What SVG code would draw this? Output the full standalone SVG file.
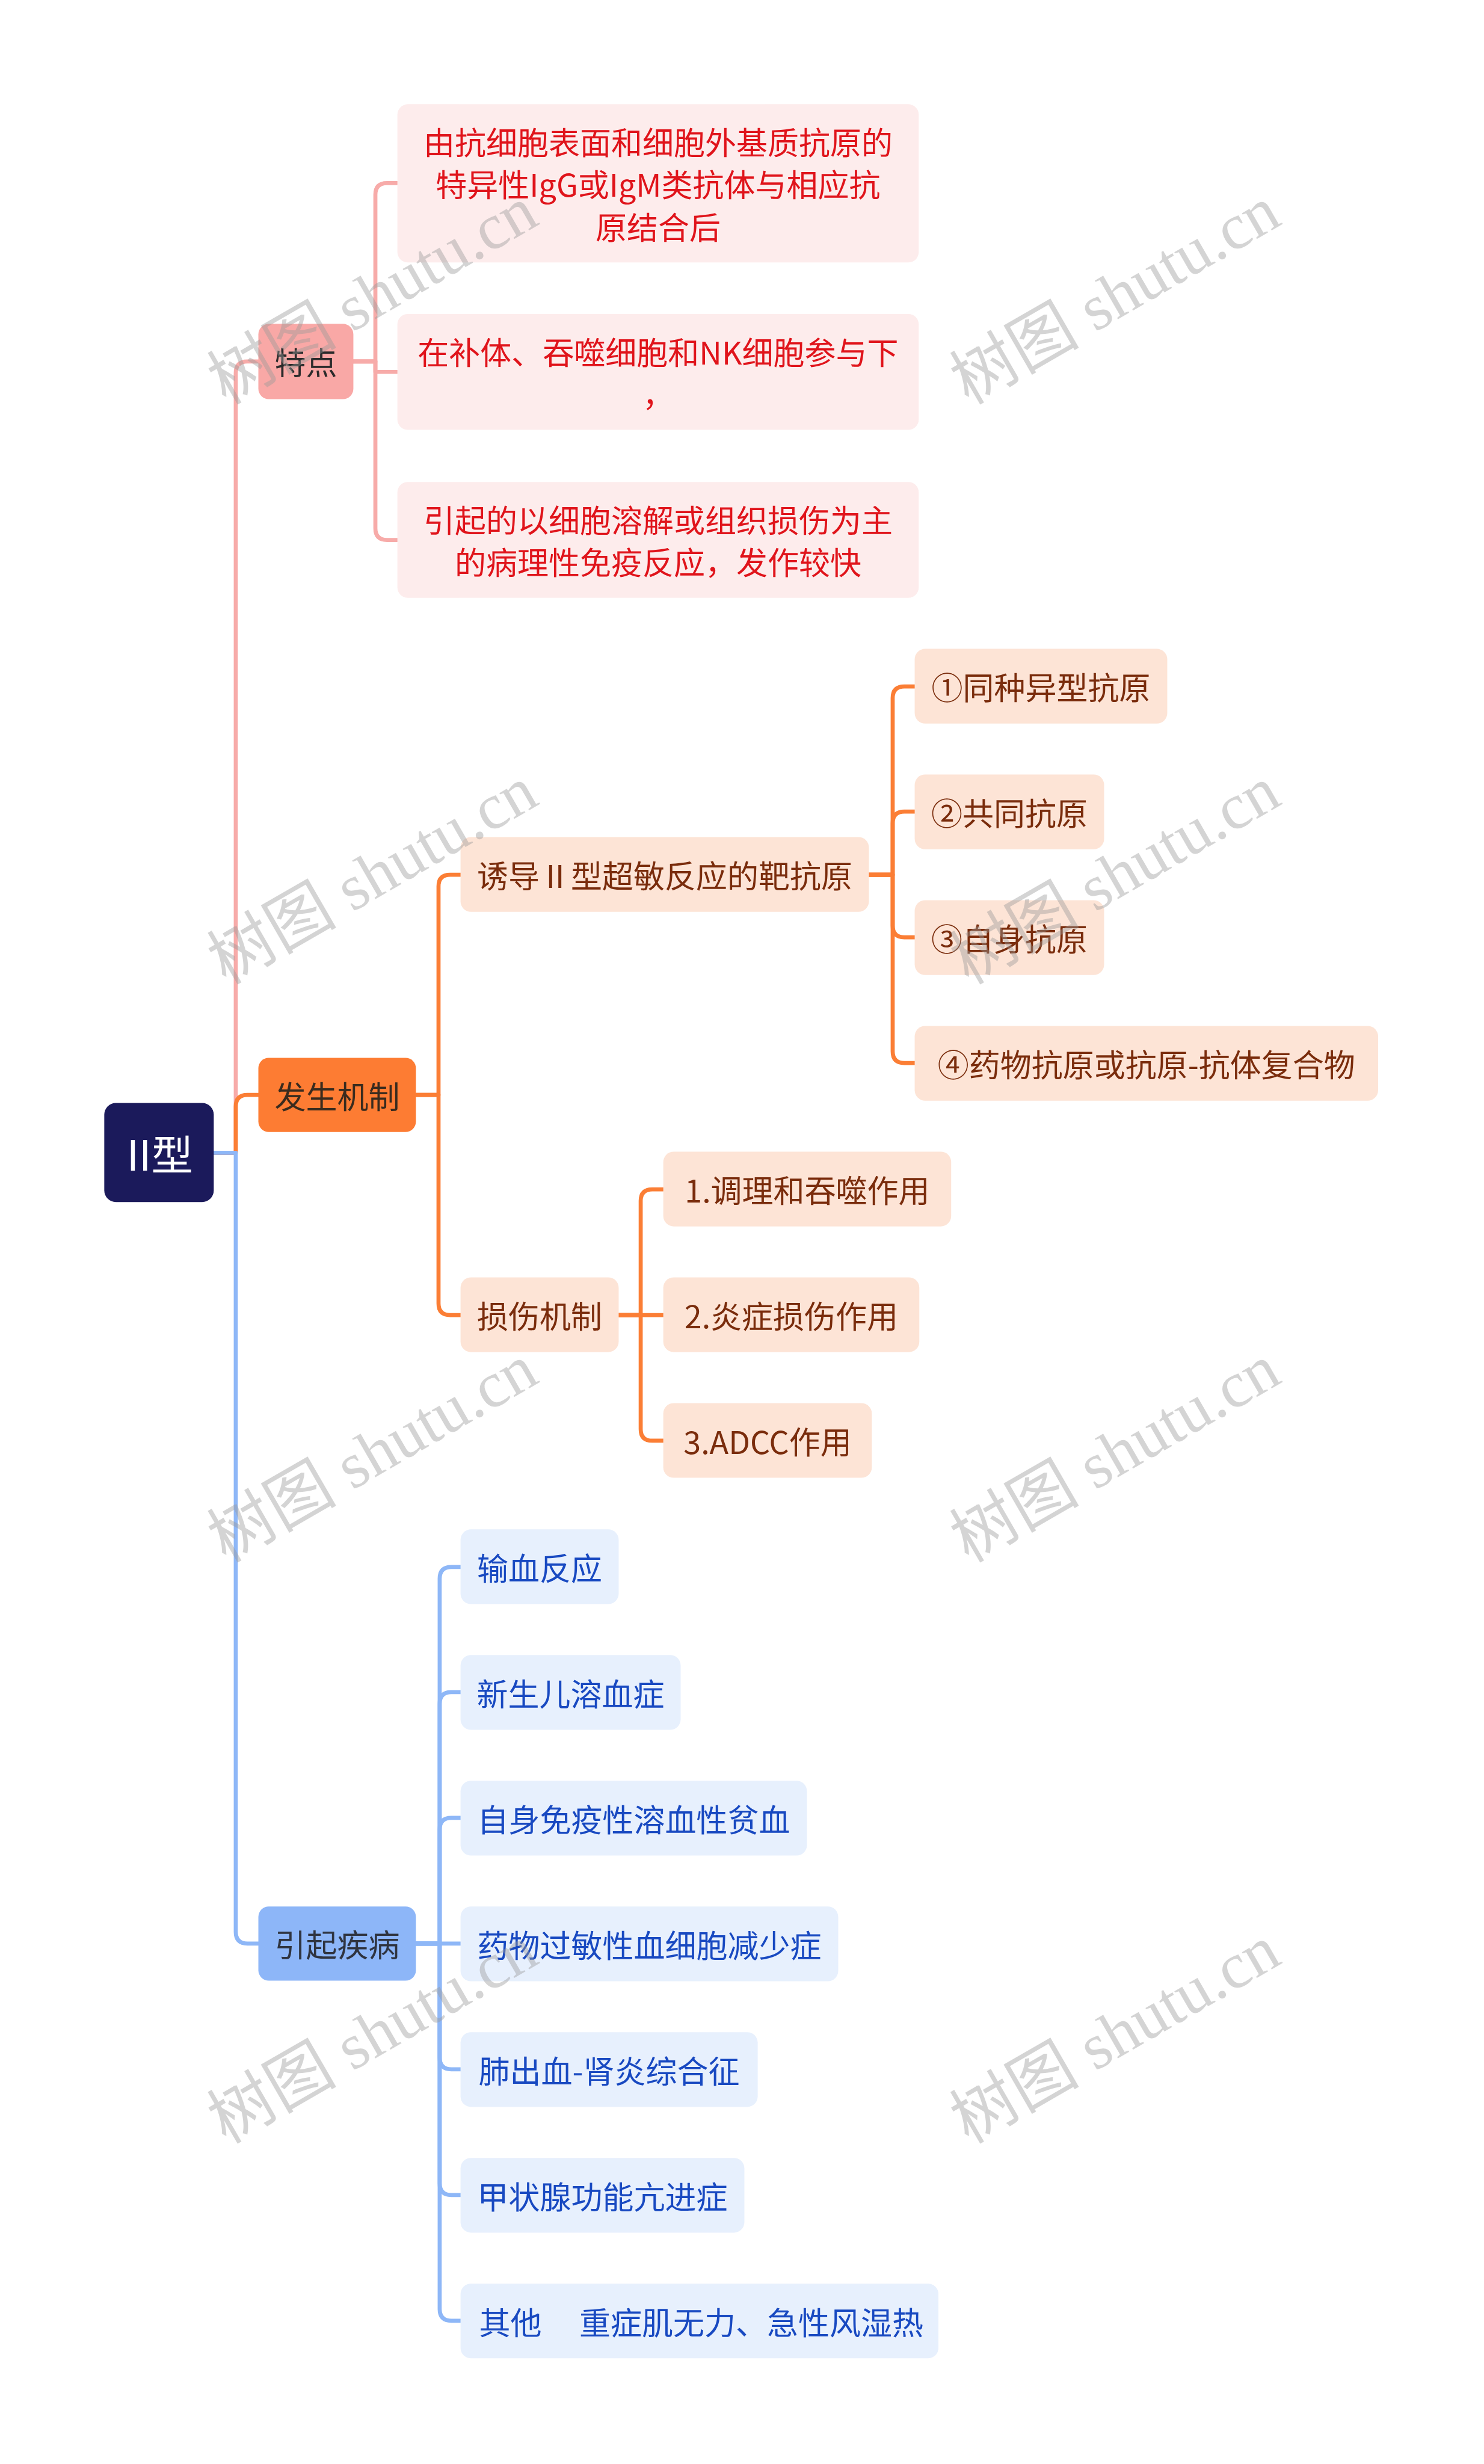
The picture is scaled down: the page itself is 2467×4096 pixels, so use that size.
<svg xmlns="http://www.w3.org/2000/svg" width="2467" height="4096" viewBox="0 0 2467 4096">
<defs>
<style>
text{font-family:"Noto Sans CJK SC","Noto Sans",sans-serif;font-size:54px;text-anchor:middle;dominant-baseline:central}
.ln{fill:none;stroke-width:7;stroke-linecap:round;stroke-linejoin:round}
.lp{stroke:#F7ABA9}.lo{stroke:#FB7E35}.lb{stroke:#8EB7F7}
.root rect{fill:#1B1A5B}.root text{fill:#FFFFFF;font-size:72px}
.pm rect{fill:#F9A8A6}.pm text{fill:#2B2B2B}
.ps rect{fill:#FDECEC}.ps text{fill:#E0141B}
.om rect{fill:#FD7C33}.om text{fill:#3A2B1E}
.os rect{fill:#FDE4D6}.os text{fill:#7A2C0C}
.bm rect{fill:#8DB6F8}.bm text{fill:#2F3440}
.bs rect{fill:#E7F0FD}.bs text{fill:#1849C1}
.wm text{font-family:"Liberation Serif","Noto Sans CJK SC",serif;font-size:112px;fill:#9A9A9A;opacity:0.42}
</style>
</defs>
<rect width="2467" height="4096" fill="#FFFFFF"/>
<g transform="scale(0.963)">
<g id="connectors">
<path class="ln lp" d="M369,1990 H407 V644 Q407,624 427,624 H446"/>
<path class="ln lo" d="M369,1990 H407 V1910 Q407,1890 427,1890 H446"/>
<path class="ln lb" d="M369,1990 H407 V3335 Q407,3355 427,3355 H446"/>
<path class="ln lp" d="M610,624 H648 V336 Q648,316 668,316 H686"/>
<path class="ln lp" d="M610,624 H648 V642 H686"/>
<path class="ln lp" d="M610,624 H648 V912 Q648,932 668,932 H686"/>
<path class="ln lo" d="M718,1890 H757 V1530 Q757,1510 777,1510 H795"/>
<path class="ln lo" d="M718,1890 H757 V2250 Q757,2270 777,2270 H795"/>
<path class="ln lo" d="M1500,1510 H1541 V1205 Q1541,1185 1561,1185 H1579"/>
<path class="ln lo" d="M1500,1510 H1541 V1421 Q1541,1401 1561,1401 H1579"/>
<path class="ln lo" d="M1500,1510 H1541 V1598 Q1541,1618 1561,1618 H1579"/>
<path class="ln lo" d="M1500,1510 H1541 V1815 Q1541,1835 1561,1835 H1579"/>
<path class="ln lo" d="M1068,2270 H1106 V2073 Q1106,2053 1126,2053 H1145"/>
<path class="ln lo" d="M1068,2270 H1145"/>
<path class="ln lo" d="M1068,2270 H1106 V2467 Q1106,2487 1126,2487 H1145"/>
<path class="ln lb" d="M718,3355 H759 V2725 Q759,2705 779,2705 H795"/>
<path class="ln lb" d="M718,3355 H759 V2941 Q759,2921 779,2921 H795"/>
<path class="ln lb" d="M718,3355 H759 V3158 Q759,3138 779,3138 H795"/>
<path class="ln lb" d="M718,3355 H795"/>
<path class="ln lb" d="M718,3355 H759 V3552 Q759,3572 779,3572 H795"/>
<path class="ln lb" d="M718,3355 H759 V3769 Q759,3789 779,3789 H795"/>
<path class="ln lb" d="M718,3355 H759 V3986 Q759,4006 779,4006 H795"/>
</g>
<g id="root" class="root"><rect x="180" y="1904" width="189" height="171" rx="20"/><text x="276" y="1990">II型</text></g>
<g id="n-tedian" class="pm"><rect x="446" y="559" width="164" height="130" rx="18"/><text x="528" y="624">特点</text></g>
<g id="n-p1" class="ps"><rect x="686" y="180" width="900" height="273" rx="18"/>
<text x="1136" y="243.5">由抗细胞表面和细胞外基质抗原的</text>
<text x="1136" y="316.5">特异性IgG或IgM类抗体与相应抗</text>
<text x="1136" y="389.5">原结合后</text></g>
<g id="n-p2" class="ps"><rect x="686" y="542" width="900" height="200" rx="18"/>
<text x="1136" y="605.5">在补体、吞噬细胞和NK细胞参与下</text>
<text x="1136" y="678.5">，</text></g>
<g id="n-p3" class="ps"><rect x="686" y="832" width="900" height="200" rx="18"/>
<text x="1136" y="895.5">引起的以细胞溶解或组织损伤为主</text>
<text x="1136" y="968.5">的病理性免疫反应，发作较快</text></g>
<g id="n-fasheng" class="om"><rect x="446" y="1826" width="272" height="128" rx="18"/><text x="582" y="1890">发生机制</text></g>
<g id="n-youdao" class="os"><rect x="795" y="1445" width="705" height="129" rx="18"/><text x="1147.5" y="1509.5">诱导Ⅱ型超敏反应的靶抗原</text></g>
<g id="n-o1" class="os"><rect x="1579" y="1120" width="436" height="129" rx="18"/><text x="1797" y="1184.5">①同种异型抗原</text></g>
<g id="n-o2" class="os"><rect x="1579" y="1337" width="327" height="129" rx="18"/><text x="1742.5" y="1401.5">②共同抗原</text></g>
<g id="n-o3" class="os"><rect x="1579" y="1554" width="327" height="129" rx="18"/><text x="1742.5" y="1618.5">③自身抗原</text></g>
<g id="n-o4" class="os"><rect x="1579" y="1771" width="800" height="129" rx="18"/><text x="1979" y="1835.5">④药物抗原或抗原-抗体复合物</text></g>
<g id="n-sunshang" class="os"><rect x="795" y="2205" width="273" height="129" rx="18"/><text x="931.5" y="2269.5">损伤机制</text></g>
<g id="n-s1" class="os"><rect x="1145" y="1988" width="497" height="129" rx="18"/><text x="1393.5" y="2052.5">1.调理和吞噬作用</text></g>
<g id="n-s2" class="os"><rect x="1145" y="2205" width="442" height="129" rx="18"/><text x="1366" y="2269.5">2.炎症损伤作用</text></g>
<g id="n-s3" class="os"><rect x="1145" y="2422" width="360" height="129" rx="18"/><text x="1325" y="2486.5">3.ADCC作用</text></g>
<g id="n-yinqi" class="bm"><rect x="446" y="3291" width="272" height="128" rx="18"/><text x="582" y="3355">引起疾病</text></g>
<g id="n-b1" class="bs"><rect x="795" y="2640" width="273" height="129" rx="18"/><text x="931.5" y="2704.5">输血反应</text></g>
<g id="n-b2" class="bs"><rect x="795" y="2857" width="380" height="129" rx="18"/><text x="985" y="2921.5">新生儿溶血症</text></g>
<g id="n-b3" class="bs"><rect x="795" y="3074" width="598" height="129" rx="18"/><text x="1094" y="3138.5">自身免疫性溶血性贫血</text></g>
<g id="n-b4" class="bs"><rect x="795" y="3291" width="652" height="129" rx="18"/><text x="1121" y="3355.5">药物过敏性血细胞减少症</text></g>
<g id="n-b5" class="bs"><rect x="795" y="3508" width="513" height="129" rx="18"/><text x="1051.5" y="3572.5">肺出血-肾炎综合征</text></g>
<g id="n-b6" class="bs"><rect x="795" y="3725" width="490" height="129" rx="18"/><text x="1040" y="3789.5">甲状腺功能亢进症</text></g>
<g id="n-b7" class="bs"><rect x="795" y="3942" width="825" height="129" rx="18"/><text x="827" y="4006.5" style="text-anchor:start">其他<tspan x="1000">重症肌无力、急性风湿热</tspan></text></g>
<g id="watermarks" class="wm">
<text x="643" y="510" transform="rotate(-30 643 510)">树图 shutu.cn</text>
<text x="1925" y="510" transform="rotate(-30 1925 510)">树图 shutu.cn</text>
<text x="643" y="1511" transform="rotate(-30 643 1511)">树图 shutu.cn</text>
<text x="1925" y="1511" transform="rotate(-30 1925 1511)">树图 shutu.cn</text>
<text x="643" y="2509" transform="rotate(-30 643 2509)">树图 shutu.cn</text>
<text x="1925" y="2509" transform="rotate(-30 1925 2509)">树图 shutu.cn</text>
<text x="643" y="3512" transform="rotate(-30 643 3512)">树图 shutu.cn</text>
<text x="1925" y="3512" transform="rotate(-30 1925 3512)">树图 shutu.cn</text>
</g>
</g>
</svg>
